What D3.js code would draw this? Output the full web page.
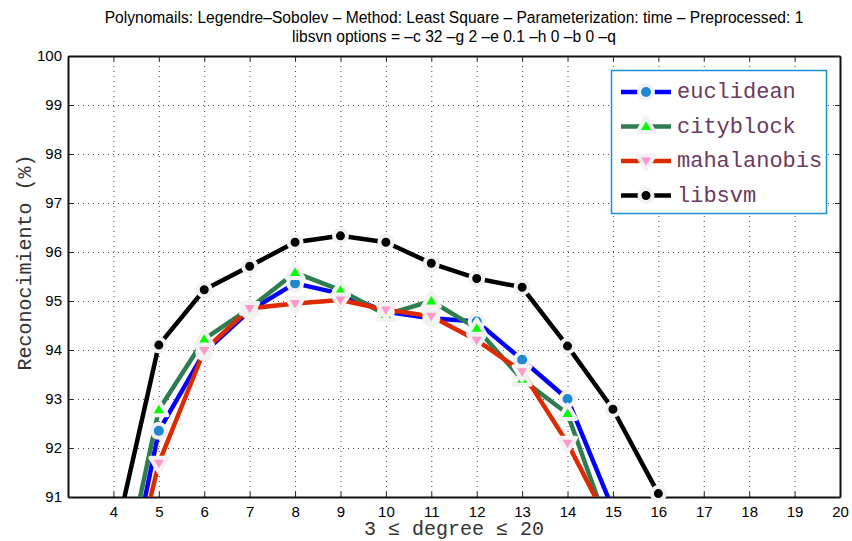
<!DOCTYPE html>
<html>
<head>
<meta charset="utf-8">
<script src="https://cdn.jsdelivr.net/npm/d3@7"></script>
<style>
  body { margin: 0; background: #fff; }
  svg { display: block; }
</style>
</head>
<body>
<div id="container"></div>
<script>
// data
const degrees = [4, 5, 6, 7, 8, 9, 10, 11, 12, 13, 14, 15, 16, 17];
const euclidean   = [87.85, 92.35, 93.95, 94.80, 95.36, 95.15, 94.78, 94.65, 94.58, 93.80, 93.00, 90.75, null, null];
const cityblock   = [88.45, 92.78, 94.22, 94.85, 95.58, 95.22, 94.72, 95.00, 94.44, 93.40, 92.70, 90.10, null, null];
const mahalanobis = [87.85, 91.69, 93.99, 94.85, 94.95, 95.02, 94.82, 94.69, 94.20, 93.56, 92.10, 90.30, null, null];
const libsvm      = [90.00, 94.10, 95.23, 95.71, 96.20, 96.33, 96.20, 95.77, 95.46, 95.28, 94.08, 92.79, 91.07, 88.5];
const xTicks = [4, 5, 6, 7, 8, 9, 10, 11, 12, 13, 14, 15, 16, 17, 18, 19, 20];
const yTicks = [91, 92, 93, 94, 95, 96, 97, 98, 99, 100];

const series = [
  {name: "euclidean",   values: euclidean,   line: "#0000ff", fill: "#1e88d0", marker: "circle"},
  {name: "cityblock",   values: cityblock,   line: "#2e7d50", fill: "#00ff00", marker: "up"},
  {name: "mahalanobis", values: mahalanobis, line: "#dd2a00", fill: "#ff99cc", marker: "down"},
  {name: "libsvm",      values: libsvm,      line: "#000000", fill: "#000000", marker: "dot"}
];

// dimensions
const w = 852, h = 541;
const m = {left: 68, right: 840, top: 56, bottom: 497};

const xScale = d3.scaleLinear().domain([3, 20]).range([m.left, m.right]);
const yScale = d3.scaleLinear().domain([91, 100]).range([m.bottom, m.top]);

const svg = d3.select("#container").append("svg")
  .attr("width", w).attr("height", h);

svg.append("defs").append("clipPath").attr("id", "clip")
  .append("rect").attr("x", m.left).attr("y", m.top)
  .attr("width", m.right - m.left).attr("height", m.bottom - m.top);

// grid
const grid = svg.append("g").attr("stroke", "#444").attr("stroke-width", 1)
  .attr("stroke-dasharray", "1,4");
xTicks.slice(0, -1).forEach(function(t){
  grid.append("line").attr("x1", xScale(t) + 0.5).attr("x2", xScale(t) + 0.5)
    .attr("y1", m.top).attr("y2", m.bottom);
});
yTicks.slice(1, -1).forEach(function(t){
  grid.append("line").attr("x1", m.left).attr("x2", m.right)
    .attr("y1", yScale(t) + 0.5).attr("y2", yScale(t) + 0.5);
});

// axes
const xAxis = d3.axisBottom(xScale).tickValues(xTicks).tickSize(-5).tickPadding(9).tickSizeOuter(0);
const yAxis = d3.axisLeft(yScale).tickValues(yTicks).tickSize(-5).tickPadding(6).tickSizeOuter(0);
const xTop = d3.axisTop(xScale).tickValues(xTicks).tickSize(-5).tickFormat("").tickSizeOuter(0);
const yRight = d3.axisRight(yScale).tickValues(yTicks).tickSize(-5).tickFormat("").tickSizeOuter(0);

[
  [xAxis, "translate(0," + m.bottom + ")"],
  [yAxis, "translate(" + m.left + ",0)"],
  [xTop, "translate(0," + m.top + ")"],
  [yRight, "translate(" + m.right + ",0)"]
].forEach(function(a){
  svg.append("g").attr("transform", a[1])
    .style("font-family", "'Liberation Sans', Arial, sans-serif")
    .style("font-size", "15px")
    .call(a[0])
    .call(g => g.selectAll("line").attr("stroke", "#222"))
    .call(g => g.selectAll("text").attr("fill", "#000"))
    .call(g => g.select(".domain").attr("stroke", "#111").attr("stroke-width", 2));
});

// lines
const line = d3.line()
  .defined(d => d[1] !== null)
  .x(d => xScale(d[0]))
  .y(d => yScale(d[1]));

const plot = svg.append("g");
series.forEach(function(s){
  const pts = degrees.map((d, i) => [d, s.values[i]]);
  plot.append("path")
    .datum(pts)
    .attr("clip-path", "url(#clip)")
    .attr("fill", "none")
    .attr("stroke", s.line)
    .attr("stroke-width", 4.5)
    .attr("stroke-linejoin", "round")
    .attr("d", line);
});

function drawMarker(g, type, x, y, fill) {
  const edge = "#f2f2f2";
  if (type === "circle") {
    g.append("circle").attr("cx", x).attr("cy", y).attr("r", 7)
      .attr("fill", fill).attr("stroke", edge).attr("stroke-width", 4);
  } else if (type === "dot") {
    g.append("circle").attr("cx", x).attr("cy", y).attr("r", 6.5)
      .attr("fill", fill).attr("stroke", edge).attr("stroke-width", 4);
  } else {
    const s = 9;
    const dir = type === "up" ? -1 : 1;
    const pts = [[x, y + dir * s], [x - s * 0.95, y - dir * s * 0.6], [x + s * 0.95, y - dir * s * 0.6]];
    g.append("polygon").attr("points", pts.map(p => p.join(",")).join(" "))
      .attr("fill", fill).attr("stroke", edge).attr("stroke-width", 4)
      .attr("stroke-linejoin", "round");
  }
}

series.forEach(function(s){
  const g = plot.append("g");
  degrees.forEach(function(d, i){
    const v = s.values[i];
    if (v === null || v < 91 || v > 100) return;
    drawMarker(g, s.marker, xScale(d), yScale(v), s.fill);
  });
});

// title
svg.append("text").attr("x", (m.left + m.right) / 2).attr("y", 23)
  .attr("text-anchor", "middle")
  .style("font-family", "'Liberation Sans', Arial, sans-serif").style("font-size", "15.6px")
  .text("Polynomails: Legendre\u2013Sobolev \u2013 Method: Least Square \u2013 Parameterization: time \u2013 Preprocessed: 1");
svg.append("text").attr("x", (m.left + m.right) / 2).attr("y", 42)
  .attr("text-anchor", "middle")
  .style("font-family", "'Liberation Sans', Arial, sans-serif").style("font-size", "15.6px")
  .text("libsvn options = \u2013c 32 \u2013g 2 \u2013e 0.1 \u2013h 0 \u2013b 0 \u2013q");

// axis labels
svg.append("text")
  .attr("transform", "translate(31," + ((m.top + m.bottom) / 2 - 14) + ")rotate(-90)")
  .attr("text-anchor", "middle")
  .style("font-family", "'Liberation Mono', 'Courier New', monospace").style("font-size", "20px")
  .attr("fill", "#333")
  .text("Reconocimiento (%)");
svg.append("text")
  .attr("x", (m.left + m.right) / 2).attr("y", 535)
  .attr("text-anchor", "middle")
  .style("font-family", "'Liberation Mono', 'Courier New', monospace").style("font-size", "20px")
  .attr("fill", "#333")
  .text("3 \u2264 degree \u2264 20");

// legend
const lg = svg.append("g");
lg.append("rect").attr("x", 611.5).attr("y", 70.5).attr("width", 215).attr("height", 143)
  .attr("fill", "#fff").attr("stroke", "#1e8fd0").attr("stroke-width", 1.5);
series.forEach(function(s, i){
  const cy = 92 + i * 34.5;
  lg.append("line").attr("x1", 621).attr("x2", 671).attr("y1", cy).attr("y2", cy)
    .attr("stroke", s.line).attr("stroke-width", 4.5);
  drawMarker(lg, s.marker, 646, cy, s.fill);
  lg.append("text").attr("x", 677).attr("y", cy + 6)
    .style("font-family", "'Liberation Mono', 'Courier New', monospace").style("font-size", "22px")
    .attr("fill", "#6b3a5e")
    .text(s.name);
});
</script>
</body>
</html>
